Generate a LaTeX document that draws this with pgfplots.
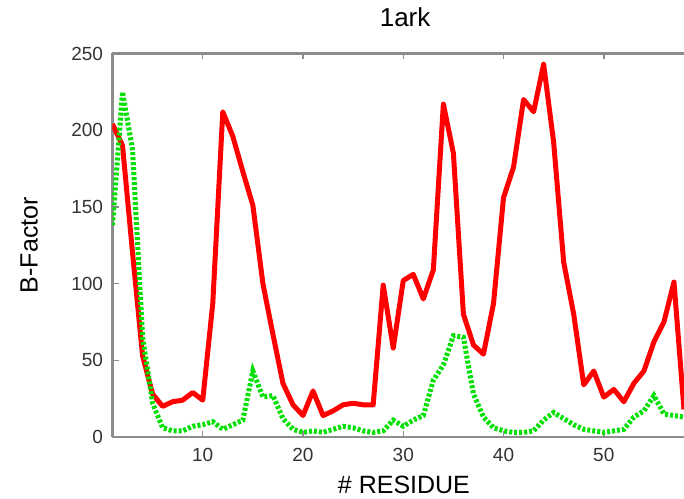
\documentclass[border=0pt]{standalone}
\usepackage{fontspec}
\setmainfont{Liberation Sans}
\usepackage{pgfplots}
\pgfplotsset{compat=1.18}
\definecolor{gpred}{HTML}{FF0000}
\definecolor{gpgreen}{HTML}{00E000}
\definecolor{gpframe}{HTML}{8C8C8C}

\begin{document}
\begin{tikzpicture}
\begin{axis}[
    scale only axis,
    width=571.5pt, height=383.5pt,
    xmin=1, xmax=58, ymin=0, ymax=250,
    xtick={10,20,30,40,50},
    ytick={0,50,100,150,200,250},
    axis x line*=box, axis y line*=left,
    axis line style={gpframe, line width=2.5pt},
    tick style={gpframe, line width=1.5pt},
    major tick length=6pt,
    tick align=inside,
    /pgf/number format/assume math mode=true,
    ticklabel style={font=\fontsize{19}{19}\selectfont, text=black!80},
    xticklabel style={yshift=-8pt},
    yticklabel style={xshift=-6pt},
    xlabel={\# RESIDUE},
    ylabel={B-Factor},
    xlabel style={font=\fontsize{25}{25}\selectfont, at={(axis description cs:0.51,-0.124)}, anchor=center},
    ylabel style={font=\fontsize{25}{25}\selectfont, at={(axis description cs:-0.146,0.5)}, anchor=center, rotate=0},
    title={1ark},
    title style={font=\fontsize{26}{26}\selectfont, at={(axis description cs:0.512,1.080)}, anchor=center},
]
\addplot[gpred, line width=5pt, line join=round] coordinates {
(1,204) (2,190) (3,120) (4,53) (5,28) (6,20) (7,23) (8,24) (9,29) (10,24)
(11,87) (12,212) (13,196) (14,173) (15,151) (16,100) (17,67) (18,35) (19,21) (20,14)
(21,30) (22,14) (23,17) (24,21) (25,22) (26,21) (27,21) (28,99) (29,58) (30,102)
(31,106) (32,90) (33,109) (34,217) (35,185) (36,80) (37,60) (38,54) (39,87) (40,156)
(41,176) (42,220) (43,212) (44,243) (45,192) (46,114) (47,80) (48,34) (49,43) (50,26)
(51,31) (52,23) (53,35) (54,43) (55,62) (56,75) (57,101) (58,18)
};
\addplot[gpgreen, line width=5pt, dash pattern=on 3pt off 2pt] coordinates {
(1,138) (2,225) (3,187) (4,65) (5,22) (6,6) (7,4) (8,4) (9,7) (10,8)
(11,10) (12,5) (13,8) (14,11) (15,43) (16,26) (17,27) (18,12) (19,5) (20,3)
(21,4) (22,3) (23,5) (24,7) (25,6) (26,4) (27,3) (28,4) (29,11) (30,7)
(31,11) (32,14) (33,37) (34,47) (35,66) (36,65) (37,28) (38,13) (39,6) (40,4)
(41,3) (42,3) (43,4) (44,11) (45,16) (46,12) (47,8) (48,5) (49,4) (50,3)
(51,4) (52,5) (53,13) (54,17) (55,27) (56,15) (57,14) (58,13)
};
\coordinate (sw) at (rel axis cs:0,0);
\coordinate (ne) at (rel axis cs:1,1);
\end{axis}
\pgfresetboundingbox
\path ([shift={(-112.5pt,-62pt)}]sw) rectangle ([shift={(0pt,53.5pt)}]ne);
\end{tikzpicture}
\end{document}
